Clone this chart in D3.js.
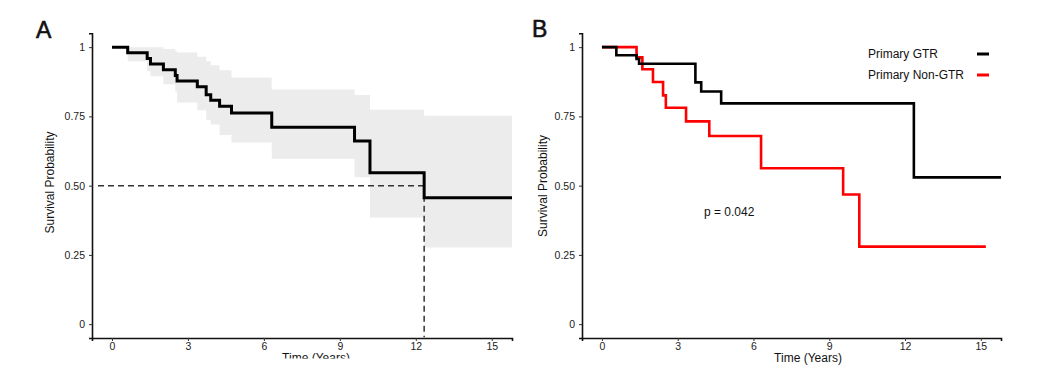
<!DOCTYPE html>
<html>
<head>
<meta charset="utf-8">
<script src="https://cdn.jsdelivr.net/npm/d3@7"></script>
<style>
  html, body { margin: 0; padding: 0; background: #fff; }
  svg { display: block; font-family: "Liberation Sans", Arial, Helvetica, sans-serif; }
</style>
</head>
<body>
<svg id="chart" width="1045" height="381"></svg>
<script>
// ---------- data ----------
const timeTicks = [0, 3, 6, 9, 12, 15];
const probTicks = [0, 0.25, 0.5, 0.75, 1];
const probTickLabels = ["0", "0.25", "0.50", "0.75", "1"];

// Panel A: overall Kaplan-Meier estimate with 95% CI
const aTimes = [0, 0.62, 1.39, 1.52, 2.03, 2.50, 2.57, 3.37, 3.72, 3.90, 4.25, 4.72, 6.31, 9.58, 10.19, 12.33];
const aSurv  = [1, 0.980, 0.959, 0.939, 0.918, 0.898, 0.878, 0.857, 0.828, 0.808, 0.787, 0.762, 0.711, 0.661, 0.547, 0.456];
const aUpper = [1, 1.000, 1.000, 1.000, 0.993, 0.985, 0.981, 0.965, 0.949, 0.935, 0.917, 0.890, 0.847, 0.827, 0.774, 0.752];
const aLower = [1, 0.949, 0.913, 0.895, 0.866, 0.840, 0.800, 0.772, 0.738, 0.721, 0.683, 0.656, 0.597, 0.530, 0.385, 0.277];
const aEndTime = 15.8;
const aMedianSurv = 0.5;
const aMedianTime = 12.33;

// Panel B: by extent of primary resection
const seriesNames = ["Primary GTR", "Primary Non-GTR"];
const seriesColors = ["#000000", "#ff0000"];
const gtrTimes = [0, 0.57, 1.37, 1.47, 3.70, 3.93, 4.72, 12.35];
const gtrSurv  = [1, 0.971, 0.957, 0.940, 0.873, 0.840, 0.797, 0.530];
const gtrEndTime = 15.8;
const nonTimes = [0, 1.37, 1.60, 2.02, 2.42, 2.53, 3.33, 4.25, 6.30, 9.55, 10.19];
const nonSurv  = [1, 0.963, 0.920, 0.874, 0.826, 0.781, 0.732, 0.679, 0.563, 0.468, 0.280];
const nonEndTime = 15.2;
const pValueText = "p = 0.042";

// ---------- helpers ----------
const svg = d3.select("#chart");
const xDomain = [-0.79, 15.8];
const yDomain = [-0.05, 1.05];

function stepPoints(times, surv, end, extra) {
  const pts = times.map((t, i) => ({ t: t, s: surv[i], u: extra ? extra.u[i] : null, l: extra ? extra.l[i] : null }));
  const last = pts[pts.length - 1];
  pts.push({ t: end, s: last.s, u: last.u, l: last.l });
  return pts;
}

function drawAxes(g, x, y, xTitleX, clipBottom) {
  const xAxis = g.append("g")
    .attr("transform", `translate(0,${y.range()[0]})`)
    .call(d3.axisBottom(x).tickValues(timeTicks).tickSizeOuter(0).tickSize(3).tickPadding(2));
  const yAxis = g.append("g")
    .attr("transform", `translate(${x.range()[0]},0)`)
    .call(d3.axisLeft(y).tickValues(probTicks).tickFormat((d, i) => probTickLabels[i]).tickSizeOuter(0).tickSize(3).tickPadding(4));
  [xAxis, yAxis].forEach(a => {
    a.select(".domain").attr("stroke", "#111").attr("stroke-width", 1.6);
    a.selectAll(".tick line").attr("stroke", "#333").attr("stroke-width", 1);
    a.selectAll(".tick text").attr("fill", "#222").style("font-size", "10.5px")
      .style("font-family", "'Liberation Sans', Arial, sans-serif");
  });
  const xt = g.append("text")
    .attr("x", xTitleX).attr("y", 361.5)
    .attr("text-anchor", "middle")
    .attr("fill", "#111").style("font-size", "12px")
    .text("Time (Years)");
  if (clipBottom) xt.attr("clip-path", "url(#clipA)");
}

// clip for panel A x title (cut off in the source)
svg.append("defs").append("clipPath").attr("id", "clipA")
  .append("rect").attr("x", 0).attr("y", 0).attr("width", 530).attr("height", 358.5);

// ---------- Panel A ----------
{
  const x = d3.scaleLinear().domain(xDomain).range([92, 512]);
  const y = d3.scaleLinear().domain(yDomain).range([338, 33.3]);
  const g = svg.append("g");
  const pts = stepPoints(aTimes, aSurv, aEndTime, { u: aUpper, l: aLower });

  g.append("path")
    .datum(pts)
    .attr("fill", "#ececec")
    .attr("d", d3.area().curve(d3.curveStepAfter).x(d => x(d.t)).y0(d => y(d.l)).y1(d => y(d.u)));

  // median lines
  g.append("line")
    .attr("x1", x(xDomain[0]) + 6).attr("x2", x(aMedianTime))
    .attr("y1", y(aMedianSurv)).attr("y2", y(aMedianSurv))
    .attr("stroke", "#333").attr("stroke-width", 1.5).attr("stroke-dasharray", "6,4");
  g.append("line")
    .attr("x1", x(aMedianTime)).attr("x2", x(aMedianTime))
    .attr("y1", y(aMedianSurv)).attr("y2", y(0) + 13)
    .attr("stroke", "#333").attr("stroke-width", 1.5).attr("stroke-dasharray", "6,4");

  g.append("path")
    .datum(pts)
    .attr("fill", "none").attr("stroke", "#000").attr("stroke-width", 3)
    .attr("d", d3.line().curve(d3.curveStepAfter).x(d => x(d.t)).y(d => y(d.s)));

  drawAxes(g, x, y, 316, true);

  g.append("text").attr("x", 50).attr("y", 182.5)
    .attr("transform", "rotate(-90,50,182.5)")
    .attr("text-anchor", "middle").attr("dominant-baseline", "central")
    .attr("fill", "#111").style("font-size", "12px").text("Survival Probability");

  g.append("text").attr("x", 36).attr("y", 38)
    .attr("fill", "#111").attr("stroke", "#111").attr("stroke-width", 0.6)
    .style("font-size", "23px").text("A");
}

// ---------- Panel B ----------
{
  const x = d3.scaleLinear().domain(xDomain).range([582, 1001]);
  const y = d3.scaleLinear().domain(yDomain).range([338, 33.3]);
  const g = svg.append("g");
  const series = [
    { name: seriesNames[1], color: seriesColors[1], pts: stepPoints(nonTimes, nonSurv, nonEndTime) },
    { name: seriesNames[0], color: seriesColors[0], pts: stepPoints(gtrTimes, gtrSurv, gtrEndTime) }
  ];
  const line = d3.line().curve(d3.curveStepAfter).x(d => x(d.t)).y(d => y(d.s));
  series.forEach(s => {
    g.append("path").datum(s.pts)
      .attr("fill", "none").attr("stroke", s.color).attr("stroke-width", 2.6)
      .attr("d", line);
  });

  drawAxes(g, x, y, 808, false);

  g.append("text").attr("x", 542.5).attr("y", 186)
    .attr("transform", "rotate(-90,542.5,186)")
    .attr("text-anchor", "middle").attr("dominant-baseline", "central")
    .attr("fill", "#111").style("font-size", "12px").text("Survival Probability");

  g.append("text").attr("x", 704).attr("y", 211.5)
    .attr("dominant-baseline", "central")
    .attr("fill", "#111").style("font-size", "12px").text(pValueText);

  // legend
  const leg = g.append("g");
  seriesNames.forEach((name, i) => {
    const yy = 54 + i * 21;
    leg.append("text").attr("x", 868).attr("y", yy)
      .attr("dominant-baseline", "central")
      .attr("fill", "#111").style("font-size", "12px").text(name);
    leg.append("line").attr("x1", 977).attr("x2", 989).attr("y1", yy).attr("y2", yy)
      .attr("stroke", seriesColors[i]).attr("stroke-width", 3);
  });

  g.append("text").attr("x", 532).attr("y", 37)
    .attr("fill", "#111").attr("stroke", "#111").attr("stroke-width", 0.6)
    .style("font-size", "23px").text("B");
}
</script>
</body>
</html>
